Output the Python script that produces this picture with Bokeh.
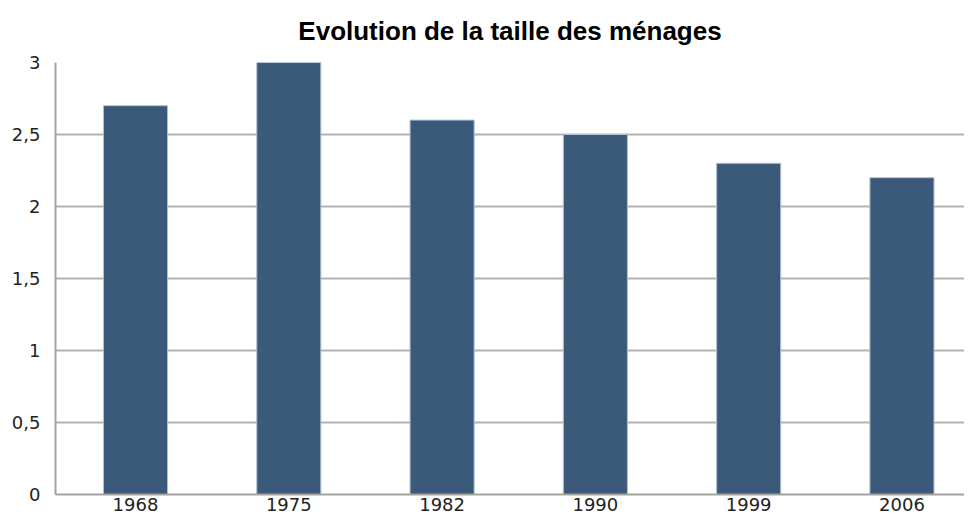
from bokeh.plotting import figure
from bokeh.models import Range1d, FixedTicker
from bokeh.embed import file_html
from bokeh.resources import INLINE

# Data
years = ["1968", "1975", "1982", "1990", "1999", "2006"]
sizes = [2.7, 3.0, 2.6, 2.5, 2.3, 2.2]
y_ticks = [0, 0.5, 1, 1.5, 2, 2.5, 3]
y_tick_labels = ["0", "0,5", "1", "1,5", "2", "2,5", "3"]
title_text = "Evolution de la taille des ménages"

xs = list(range(len(years)))

p = figure(width=964, height=517, output_backend="svg", toolbar_location=None,
           x_range=Range1d(-0.522, 5.408), y_range=Range1d(0, 3),
           min_border_left=55, min_border_right=0, min_border_top=62, min_border_bottom=23)

p.vbar(x=xs, top=sizes, width=0.418, bottom=0,
       fill_color="#3b5a79", line_color="#aec0d2", line_width=1)

p.title.text = title_text
p.title.align = "center"
p.title.vertical_align = "top"
p.title.offset = -5
p.title.text_font = "Liberation Sans"
p.title.text_font_style = "bold"
p.title.text_font_size = "26px"
p.title.text_color = "#000000"
p.title.standoff = 30

p.outline_line_color = None
p.background_fill_color = "white"
p.border_fill_color = "white"

p.xaxis.ticker = FixedTicker(ticks=xs)
p.xaxis.major_label_overrides = {i: y for i, y in zip(xs, years)}
p.yaxis.ticker = FixedTicker(ticks=y_ticks)
p.yaxis.major_label_overrides = {t: l for t, l in zip(y_ticks, y_tick_labels)}

for ax in (p.xaxis, p.yaxis):
    ax.axis_label = None
    ax.major_tick_line_color = None
    ax.minor_tick_line_color = None
    ax.major_tick_out = 0
    ax.major_tick_in = 0
    ax.minor_tick_out = 0
    ax.minor_tick_in = 0
    ax.major_label_text_font = "DejaVu Sans"
    ax.major_label_text_font_size = "18px"
    ax.major_label_text_color = "#222222"
    ax.axis_line_color = "#a3a39b"
    ax.axis_line_width = 2

p.xaxis.major_label_standoff = 3
p.yaxis.major_label_standoff = 15

p.xgrid.grid_line_color = None
p.ygrid.grid_line_color = "#b3b3ab"
p.ygrid.grid_line_width = 2

open("out.html", "w").write(file_html(p, INLINE))
